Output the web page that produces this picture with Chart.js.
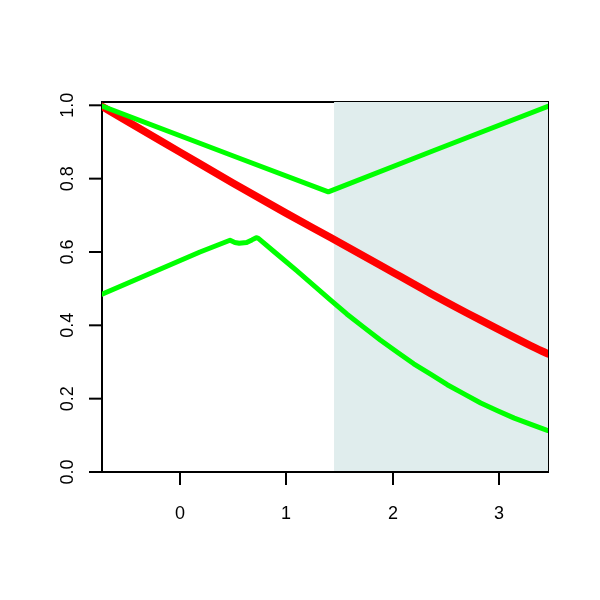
<!DOCTYPE html>
<html>
<head>
<meta charset="utf-8">
<script src="https://cdn.jsdelivr.net/npm/chart.js@4/dist/chart.umd.min.js"></script>
<style>
  html, body { margin: 0; padding: 0; background: #fff; }
  canvas { display: block; }
</style>
</head>
<body>
<canvas id="plot" width="600" height="600"></canvas>
<script>
  // axis ranges and ticks
  const xMin = -0.728, xMax = 3.46;
  const yMin = 0, yMax = 1.009;
  const xTicks = [0, 1, 2, 3];
  const yTicks = [0, 0.2, 0.4, 0.6, 0.8, 1.0];
  const yTickLabels = ["0.0", "0.2", "0.4", "0.6", "0.8", "1.0"];

  // shaded band
  const shadeFrom = 1.451;

  // red curve
  const redX = [-0.728, -0.5, 0, 0.5, 1.0, 1.413, 1.885, 2.357, 2.828, 3.3, 3.46];
  const redY = [0.997, 0.958, 0.873, 0.788, 0.706, 0.640, 0.564, 0.487, 0.414, 0.344, 0.322];

  // upper green curve
  const upX = [-0.728, 0.568, 1.397, 2.383, 3.46];
  const upY = [0.998, 0.855, 0.764, 0.876, 0.997];

  // lower green curve
  const lowX = [-0.728, 0.192, 0.474, 0.52, 0.56, 0.63, 0.68, 0.72, 0.74, 0.9, 1.1, 1.413, 1.570, 1.728, 1.885, 2.042, 2.199, 2.357, 2.514, 2.671, 2.828, 2.986, 3.143, 3.3, 3.46];
  const lowY = [0.485, 0.600, 0.632, 0.626, 0.624, 0.626, 0.633, 0.639, 0.637, 0.598, 0.549, 0.470, 0.431, 0.395, 0.360, 0.327, 0.295, 0.267, 0.238, 0.213, 0.188, 0.167, 0.147, 0.130, 0.113];

  const pts = (xs, ys) => xs.map((x, i) => ({ x: x, y: ys[i] }));

  const frame = {
    id: "frame",
    beforeDatasetsDraw(chart) {
      const { ctx, chartArea: a } = chart;
      ctx.save();
      ctx.strokeStyle = "#000";
      ctx.lineWidth = 2;
      ctx.strokeRect(a.left, a.top, a.right - a.left, a.bottom - a.top);
      ctx.restore();
    },
    afterDatasetsDraw(chart) {
      const { ctx, chartArea: a } = chart;
      ctx.save();
      ctx.strokeStyle = "#000";
      ctx.lineWidth = 2;
      ctx.beginPath();
      ctx.moveTo(a.left - 1, a.bottom);
      ctx.lineTo(a.right, a.bottom);
      ctx.stroke();
      ctx.restore();
    },
    afterDraw(chart) {
      const { ctx, chartArea: a } = chart;
      const xs = chart.scales.x, ys = chart.scales.y;
      ctx.save();
      ctx.strokeStyle = "#000";
      ctx.fillStyle = "#000";
      ctx.lineWidth = 2;
      ctx.font = '18px "Liberation Sans", Arial, sans-serif';
      ctx.textAlign = "center";
      ctx.textBaseline = "alphabetic";
      xTicks.forEach(v => {
        const px = Math.round(xs.getPixelForValue(v));
        ctx.beginPath();
        ctx.moveTo(px, a.bottom);
        ctx.lineTo(px, a.bottom + 13);
        ctx.stroke();
        ctx.fillText(String(v), px, 518.5);
      });
      yTicks.forEach((v, i) => {
        const py = ys.getPixelForValue(v);
        ctx.beginPath();
        ctx.moveTo(a.left, py);
        ctx.lineTo(a.left - 13, py);
        ctx.stroke();
        ctx.save();
        ctx.translate(73, py);
        ctx.rotate(-Math.PI / 2);
        ctx.fillText(yTickLabels[i], 0, 0);
        ctx.restore();
      });
      ctx.restore();
    }
  };

  const lineStyle = { pointRadius: 0, borderCapStyle: "round", borderJoinStyle: "round", fill: false };

  new Chart(document.getElementById("plot"), {
    type: "line",
    data: {
      datasets: [
        Object.assign({ data: pts(upX, upY), borderColor: "#00ff00", borderWidth: 5, tension: 0 }, lineStyle),
        Object.assign({ data: pts(lowX, lowY), borderColor: "#00ff00", borderWidth: 5, tension: 0 }, lineStyle),
        Object.assign({ data: pts(redX, redY), borderColor: "#ff0000", borderWidth: 7.5, cubicInterpolationMode: "monotone" }, lineStyle),
        {
          data: pts([shadeFrom, xMax], [yMax, yMax]),
          borderWidth: 0,
          pointRadius: 0,
          backgroundColor: "#e0eded",
          fill: "origin"
        }
      ]
    },
    options: {
      responsive: false,
      animation: false,
      events: [],
      layout: { padding: { top: 102, right: 52, left: 0, bottom: 0 } },
      plugins: { legend: { display: false }, tooltip: { enabled: false } },
      scales: {
        x: {
          type: "linear",
          min: xMin,
          max: xMax,
          grid: { display: false },
          border: { display: false },
          ticks: { display: false },
          afterFit(s) { s.height = 128; }
        },
        y: {
          type: "linear",
          min: yMin,
          max: yMax,
          grid: { display: false },
          border: { display: false },
          ticks: { display: false },
          afterFit(s) { s.width = 102; }
        }
      }
    },
    plugins: [frame]
  });
</script>
</body>
</html>
